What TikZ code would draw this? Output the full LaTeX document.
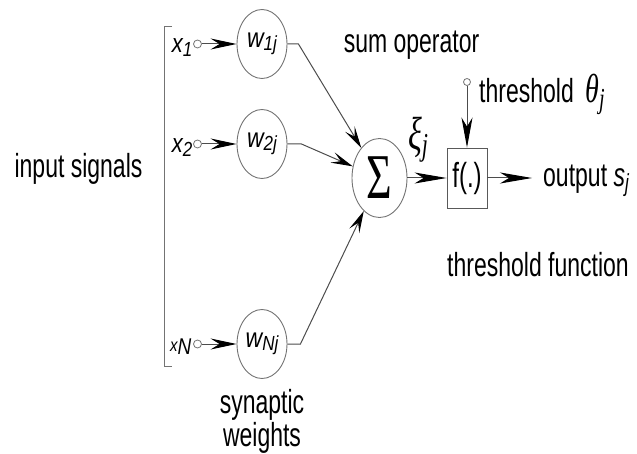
\documentclass[tikz,border=0pt]{standalone}
\usepackage{fontspec}
\setmainfont{Liberation Sans}
\newfontfamily\greekfont{Liberation Serif}
\usetikzlibrary{arrows.meta,shapes.geometric}
\newcommand{\tall}[2][1.45]{\scalebox{1}[#1]{#2}}
\newcommand{\lowsub}[1]{\raisebox{-3pt}{\fontsize{17}{17}\selectfont\itshape #1}}

\begin{document}
\begin{tikzpicture}[x=1pt,y=-1pt,
        wire/.style={line width=1pt,draw=black!70},
        arrowtip/.style={-{Stealth[length=#1,width=11pt,inset=9pt,black]}},
        arrowtip/.default=26pt,
        weight/.style={ellipse,draw=black!55,line width=0.9pt,minimum width=50pt,minimum height=69pt,inner sep=0pt,font=\fontsize{23}{23}\selectfont\itshape},
        port/.style={circle,draw=black!55,line width=0.8pt,minimum size=8pt,inner sep=0pt},
        caption/.style={inner sep=0pt,font=\fontsize{23}{33}\selectfont},
        inlabel/.style={inner sep=0pt,anchor=base east,font=\fontsize{22}{22}\selectfont\itshape}]
    \useasboundingbox (0,0) rectangle (637,454);
    % bracket round the inputs
    \draw[line width=0.9pt,black!55] (172,26) -- (164,26) -- (164,366) -- (172,366);
    \node[caption,anchor=base] (insig) at (78.5,178) {\tall{input signals}};
    % inputs
    \node[port] (x1c) at (197.5,44) {};
    \node[port] (x2c) at (197.5,144) {};
    \node[port] (xNc) at (197.5,344) {};
    \node[inlabel] (x1) at (192.5,53) {\tall[1.2]{x\lowsub{1}}};
    \node[inlabel] (x2) at (192.5,153) {\tall[1.2]{x\lowsub{2}}};
    \node[inlabel] (xN) at (191.5,351) {\tall[1.2]{{\fontsize{15}{15}\selectfont x}\raisebox{-3pt}{\fontsize{19}{19}\selectfont\itshape N}}};
    % synaptic weights
    \node[weight] (w1j) at (262,44) {\tall[1.2]{w\lowsub{1j}}};
    \node[weight] (w2j) at (262,144) {\tall[1.2]{w\lowsub{2j}}};
    \node[weight] (wNj) at (262,344) {\tall[1.2]{w\lowsub{Nj}}};
    \node[caption,align=center,anchor=north] (synw) at (262,389) {\tall{synaptic}\\\tall{weights}};
    % sum and threshold function
    \node[ellipse,draw=black!55,line width=0.9pt,minimum width=55pt,minimum height=79pt,inner sep=0pt] (sum) at (379.5,178) {\tall{\greekfont\fontsize{44}{44}\selectfont Σ}};
    \node[draw=black!65,line width=0.9pt,minimum width=40pt,minimum height=60pt,inner sep=0pt,font=\fontsize{24}{24}\selectfont] (fbox) at (467,178) {\tall{f(.)}};
    \node[port,minimum size=7pt] (thc) at (467,82) {};
    \coordinate (outend) at (532,178);
    \node[caption,anchor=base] (sumop) at (411.5,53) {\tall{sum operator}};
    \node[caption,anchor=base west] (xi) at (408,150) {\tall{\greekfont\itshape\fontsize{32}{32}\selectfont ξ\raisebox{-4pt}{\fontsize{22}{22}\selectfont j}}};
    \node[caption,anchor=base west] (thlbl) at (479,103) {\tall{threshold\enspace{\greekfont\itshape\fontsize{28}{28}\selectfont θ\raisebox{-4pt}{\fontsize{20}{20}\selectfont j}}}};
    \node[caption,anchor=base west] (outlbl) at (543,187) {\tall{output \textit{s}\lowsub{j}}};
    \node[caption,anchor=base] (thfun) at (538,277) {\tall{threshold function}};
    % connectors
    \draw[wire,arrowtip] (x1c) -- (w1j);
    \draw[wire,arrowtip] (x2c) -- (w2j);
    \draw[wire,arrowtip] (xNc) -- (wNj);
    \draw[wire,arrowtip=22pt] (w1j.east) -- ++(11,0) -- (sum);
    \draw[wire,arrowtip=22pt] (w2j.east) -- ++(14,0) -- (sum);
    \draw[wire,arrowtip=22pt] (wNj.east) -- ++(13,0) -- (sum);
    \draw[wire,arrowtip=32pt] (sum) -- (fbox);
    \draw[wire,arrowtip=32pt] (fbox) -- (outend);
    \draw[wire,arrowtip=30pt] (thc) -- (fbox);
\end{tikzpicture}
\end{document}
